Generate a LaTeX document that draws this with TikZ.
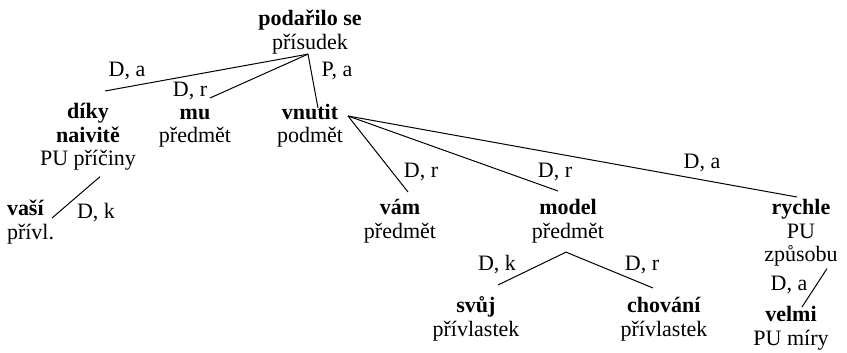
\documentclass[tikz,border=0pt]{standalone}
\usepackage{fontspec}
\setmainfont{Liberation Serif}
\begin{document}
\begin{tikzpicture}[x=1pt,y=-1pt,
  every node/.style={inner sep=0pt,outer sep=0pt,font=\fontsize{22}{23.5}\selectfont},
  item/.style={anchor=north,align=center},
  lbl/.style={anchor=base},
  edge/.style={draw=black,line width=1pt}]
\useasboundingbox (0,0) rectangle (847,353);
% tree items
\node[item] (root) at (310,9.5) {\strut\textbf{podařilo se}\\přísudek};
\node[item] (diky) at (88,102.5) {\strut\textbf{díky}\\\textbf{naivitě}\\PU příčiny};
\node[item] (mu) at (195,103) {\strut\textbf{mu}\\předmět};
\node[item] (vnutit) at (310,103) {\strut\textbf{vnutit}\\podmět};
\node[anchor=north west,align=left] (vasi) at (7,199.5) {\strut\textbf{vaší}\\přívl.};
\node[item] (vam) at (400,198.5) {\strut\textbf{vám}\\předmět};
\node[item] (model) at (568,198.5) {\strut\textbf{model}\\předmět};
\node[item] (rychle) at (801,198.5) {\strut\textbf{rychle}\\PU\\způsobu};
\node[item] (svuj) at (476,296.5) {\strut\textbf{svůj}\\přívlastek};
\node[item] (chovani) at (664,296.5) {\strut\textbf{chování}\\přívlastek};
\node[item] (velmi) at (791,305.5) {\strut\textbf{velmi}\\PU míry};
% edges
\draw[edge] ([xshift=-2pt]root.south) -- ([shift={(17pt,11.5pt)}]diky.north);
\draw[edge] ([xshift=-2pt]root.south) -- ([shift={(15pt,5pt)}]mu.north);
\draw[edge] ([xshift=-2pt]root.south) -- ([shift={(8pt,-5pt)}]vnutit.north);
\draw[edge] ([shift={(38pt,-13pt)}]vnutit.north) -- ([shift={(8pt,6.5pt)}]vam.north);
\draw[edge] ([shift={(38pt,-13pt)}]vnutit.north) -- ([shift={(-10pt,7.5pt)}]model.north);
\draw[edge] ([shift={(38pt,-13pt)}]vnutit.north) -- ([shift={(-4pt,1.5pt)}]rychle.north);
\draw[edge] ([shift={(12pt,-6pt)}]diky.south) -- ([shift={(-2pt,-18.5pt)}]vasi.north east);
\draw[edge] ([shift={(-2pt,-9pt)}]model.south) -- ([shift={(22pt,11.5pt)}]svuj.north);
\draw[edge] ([shift={(-2pt,-9pt)}]model.south) -- ([shift={(-11pt,8.5pt)}]chovani.north);
\draw[edge] ([shift={(26pt,-2pt)}]rychle.south) -- ([shift={(11pt,-1.5pt)}]velmi.north);
% labels
\node[lbl] (l1) at (127,77) {D, a};
\node[lbl] (l2) at (190,97) {D, r};
\node[lbl] (l3) at (337,77) {P, a};
\node[lbl] (l4) at (421,177) {D, r};
\node[lbl] (l5) at (555,177) {D, r};
\node[lbl] (l6) at (702,168) {D, a};
\node[lbl] (l7) at (96,218) {D, k};
\node[lbl] (l8) at (497,270) {D, k};
\node[lbl] (l9) at (642,270) {D, r};
\node[lbl] (l10) at (789,290) {D, a};
\end{tikzpicture}
\end{document}
